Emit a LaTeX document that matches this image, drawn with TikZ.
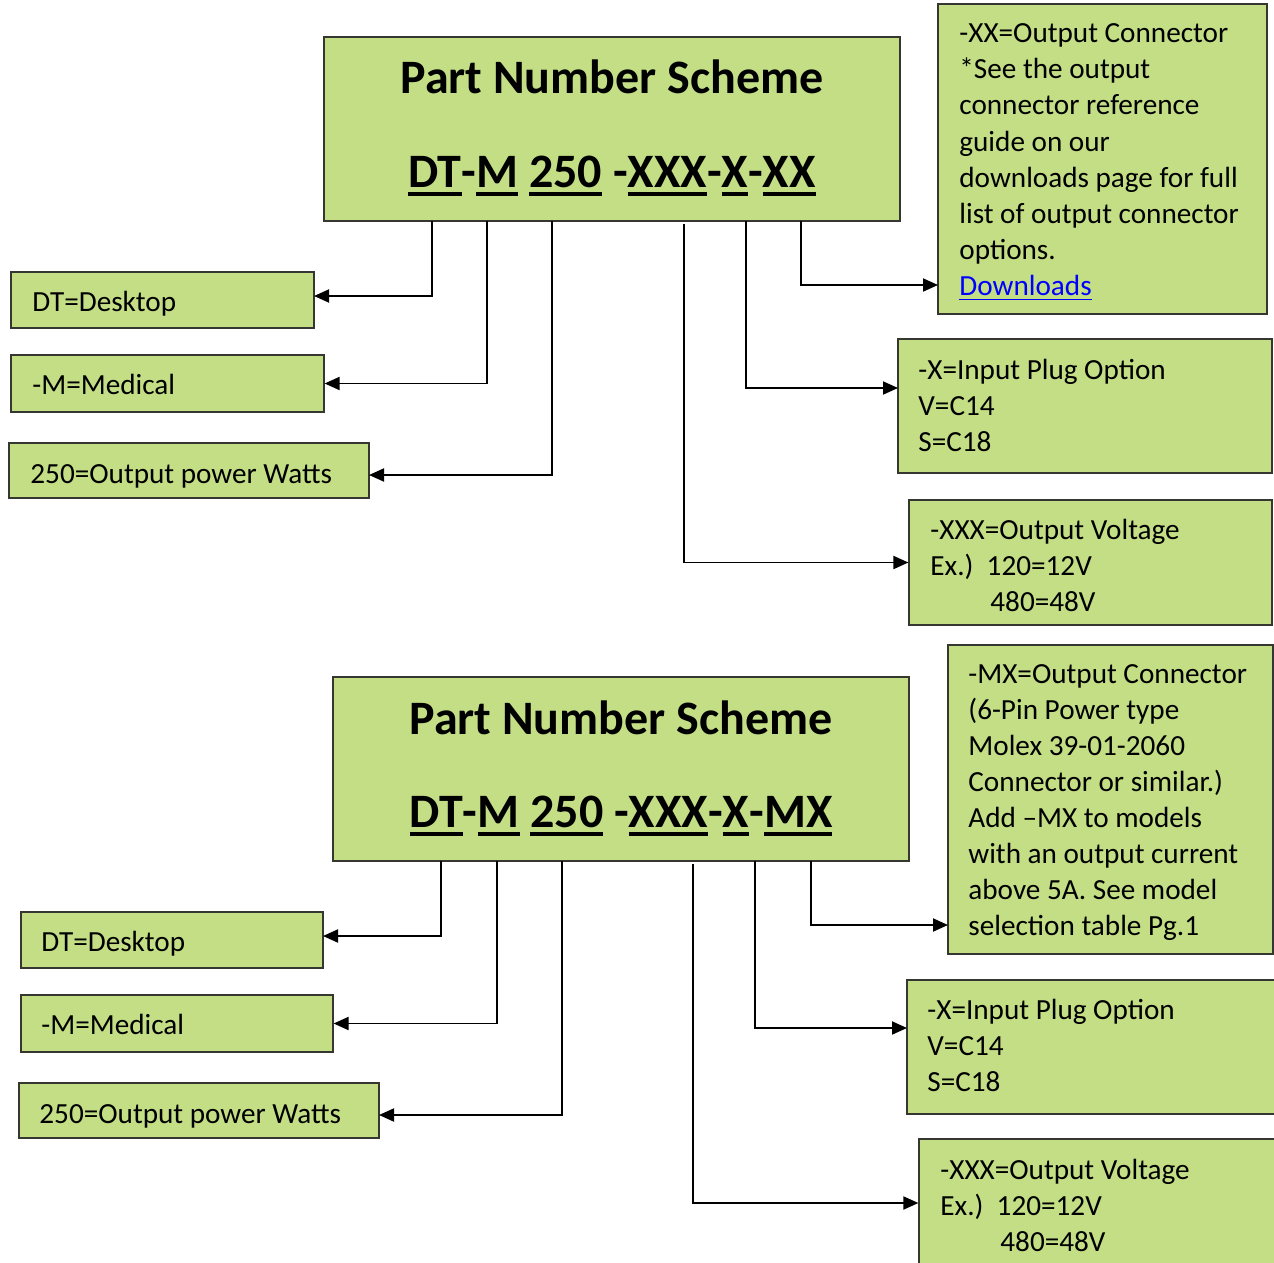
\documentclass[tikz,border=0pt]{standalone}
\usepackage{fontspec}
\setmainfont{Carlito}
\usetikzlibrary{arrows.meta,fit}
\definecolor{boxgreen}{RGB}{195,222,133}
\definecolor{edgegray}{RGB}{55,55,50}
\definecolor{linkblue}{RGB}{0,0,255}
\newcommand\myul[1]{\setbox0\hbox{#1}\rlap{\rule[-4.6pt]{\wd0}{2pt}}\box0\relax}
\newcommand\myulthin[1]{\setbox0\hbox{#1}\rlap{\rule[-2.6pt]{\wd0}{0.7pt}}\box0\relax}
\begin{document}
\begin{tikzpicture}[x=0.5pt,y=-0.5pt,
  box/.style={draw=edgegray, line width=0.6pt, fill=boxgreen, inner sep=0pt},
  txt/.style={anchor=base west, inner sep=0pt, font=\fontsize{14.6}{18}\selectfont},
  ttl/.style={anchor=base, inner sep=0pt, font=\fontsize{24}{29}\selectfont\bfseries},
  conn/.style={line width=0.95pt, -{Triangle[length=7.5pt,width=6.5pt]}}]
\useasboundingbox (0,0) rectangle (1274,1263);

% ---------------- top scheme ----------------
\node[box, fit={(324,37) (900,221)}] (t1) {};
\node[box, fit={(11,272) (314,328)}] (dt) {};
\node[box, fit={(11,355) (324,412)}] (med) {};
\node[box, fit={(9,443) (369,498)}] (pw) {};
\node[box, fit={(938,4) (1267,314)}] (xx) {};
\node[box, fit={(898,339) (1272,473)}] (xi) {};
\node[box, fit={(909,500) (1272,625)}] (xv) {};

\node[ttl] (t1a) at (612,94) {Part Number Scheme};
\node[ttl] (t1b) at (612,187) {\myul{DT}-\myul{M} \myul{250} -\myul{XXX}-\myul{X}-\myul{XX}};

\node[txt] (dtt) at (32,311) {DT=Desktop};
\node[txt] (medt) at (32,394) {-M=Medical};
\node[txt] (pwt) at (30,483) {250=Output power Watts};

\foreach [count=\i] \t in {{-XX=Output Connector}, {*See the output}, {connector reference}, {guide on our}, {downloads page for full}, {list of output connector}, {options.}}
  \node[txt] (xxt\i) at (959,{43+36*(\i-1)}) {\t};
\node[txt] (xxt8) at (959,295) {\textcolor{linkblue}{\myulthin{Downloads}}};

\node[txt] (xit1) at (918,379) {-X=Input Plug Option};
\node[txt] (xit2) at (918,415) {V=C14};
\node[txt] (xit3) at (918,451) {S=C18};

\node[txt] (xvt1) at (930,539) {-XXX=Output Voltage};
\node[txt] (xvt2) at (930,575) {Ex.)\ \ 120=12V};
\node[txt] (xvt3) at (990,611) {480=48V};

\coordinate (s1) at (432,221);
\coordinate (s2) at (487,221);
\coordinate (s3) at (552,221);
\coordinate (s4) at (684,224);
\coordinate (s5) at (746,221);
\coordinate (s6) at (801,221);
\coordinate (e1) at (314,296);
\coordinate (e3) at (369,475);
\coordinate (e5) at (898,388);
\coordinate (e6) at (938,285);
\draw[conn] (s1) |- (e1);
\draw[conn] (s2) |- (med.east);
\draw[conn] (s3) |- (e3);
\draw[conn] (s4) |- (xv.west);
\draw[conn] (s5) |- (e5);
\draw[conn] (s6) |- (e6);

% ---------------- bottom scheme ----------------
\node[box, fit={(333,677) (909,861)}] (t2) {};
\node[box, fit={(21,912) (323,968)}] (dt2) {};
\node[box, fit={(21,995) (333,1052)}] (med2) {};
\node[box, fit={(19,1083) (379,1138)}] (pw2) {};
\node[box, fit={(948,645) (1273,954)}] (mx) {};
\node[box, fit={(907,980) (1290,1114)}] (xi2) {};
\node[box, fit={(919,1139) (1290,1267)}] (xv2) {};

\node[ttl] (t2a) at (621,734) {Part Number Scheme};
\node[ttl] (t2b) at (621,827) {\myul{DT}-\myul{M} \myul{250} -\myul{XXX}-\myul{X}-\myul{MX}};

\node[txt] (dt2t) at (41,951) {DT=Desktop};
\node[txt] (med2t) at (41,1034) {-M=Medical};
\node[txt] (pw2t) at (39,1123) {250=Output power Watts};

\foreach [count=\i] \t in {{-MX=Output Connector}, {(6-Pin Power type}, {Molex 39-01-2060}, {Connector or similar.)}, {Add –MX to models}, {with an output current}, {above 5A. See model}, {selection table Pg.1}}
  \node[txt] (mxt\i) at (968,{683+36*(\i-1)}) {\t};

\node[txt] (xi2t1) at (927,1019) {-X=Input Plug Option};
\node[txt] (xi2t2) at (927,1055) {V=C14};
\node[txt] (xi2t3) at (927,1091) {S=C18};

\node[txt] (xv2t1) at (940,1179) {-XXX=Output Voltage};
\node[txt] (xv2t2) at (940,1215) {Ex.)\ \ 120=12V};
\node[txt] (xv2t3) at (1000,1251) {480=48V};

\coordinate (u1) at (441,861);
\coordinate (u2) at (497,861);
\coordinate (u3) at (562,861);
\coordinate (u4) at (693,864);
\coordinate (u5) at (755,861);
\coordinate (u6) at (811,861);
\coordinate (f1) at (323,936);
\coordinate (f3) at (379,1115);
\coordinate (f5) at (907,1028);
\coordinate (f6) at (948,925);
\draw[conn] (u1) |- (f1);
\draw[conn] (u2) |- (med2.east);
\draw[conn] (u3) |- (f3);
\draw[conn] (u4) |- (xv2.west);
\draw[conn] (u5) |- (f5);
\draw[conn] (u6) |- (f6);
\end{tikzpicture}
\end{document}
